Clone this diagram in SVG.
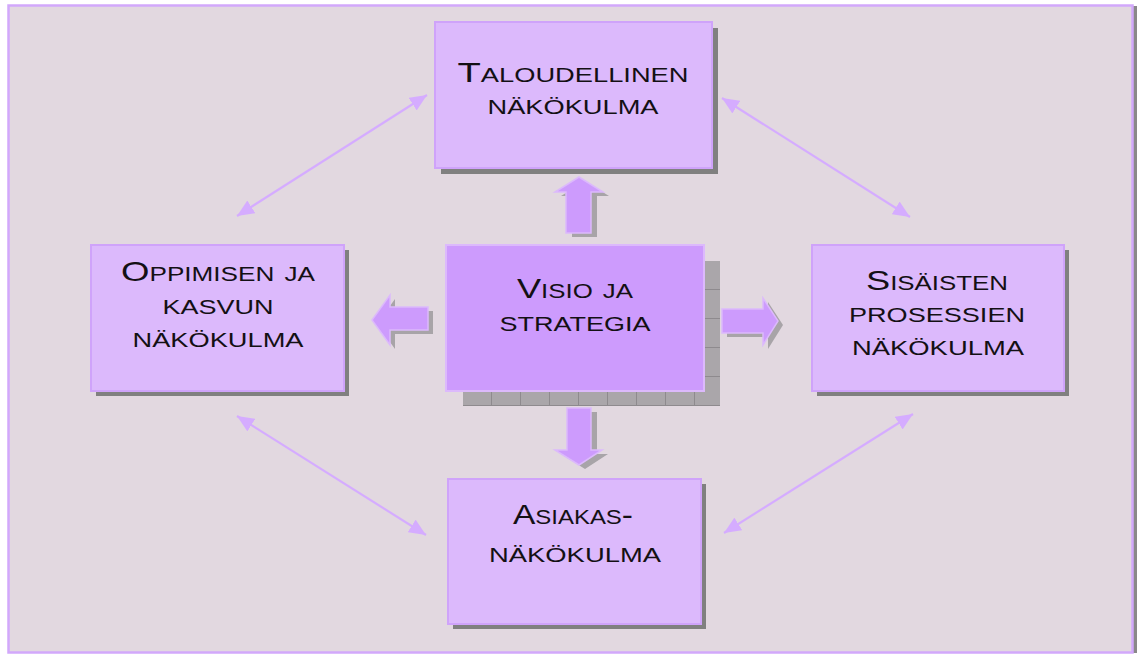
<svg xmlns="http://www.w3.org/2000/svg" width="1137" height="655" viewBox="0 0 1137 655">
  <defs>
    <style>
      .frame { fill: #e2d8e0; stroke: #d2a8fb; stroke-width: 2.5; }
      .box { fill: #dcb9fc; stroke: #cfa3fa; stroke-width: 2; }
      .core { fill: #cd9bfd; stroke: #dcb9fc; stroke-width: 2; }
      .shadow { fill: #808080; }
      .block { fill: #cd9bfd; stroke: #dcb9fc; stroke-width: 1.5; }
      .blockshadow { fill: #a8a4a8; }
      .link { stroke: #d5acff; stroke-width: 2.2; fill: none; marker-start: url(#head); marker-end: url(#head); }
      .label { font-family: "Liberation Sans", "DejaVu Sans", sans-serif; font-size: 28px; font-variant: small-caps; fill: #141014; text-anchor: middle; }
    </style>
    <marker id="head" viewBox="0 0 17 15" refX="17" refY="7.5" markerWidth="17" markerHeight="15" markerUnits="userSpaceOnUse" orient="auto-start-reverse">
      <path d="M0,0 L17,7.5 L0,15 Z" fill="#d5acff"/>
    </marker>
    <pattern id="tiles" x="463" y="261" width="29" height="29" patternUnits="userSpaceOnUse">
      <rect width="29" height="29" fill="#aaa6aa"/>
      <path d="M0,28.5 H29 M28.5,0 V29" stroke="#8e8a8e" stroke-width="1"/>
    </pattern>
  </defs>

  <!-- outer panel -->
  <rect x="1133" y="6" width="4" height="647" fill="#8a888a"/>
  <rect class="frame" x="8.5" y="5.5" width="1124" height="647"/>

  <!-- connectors: block arrows from the centre and double-headed links between the perspectives -->
  <g id="connectors">
    <polygon class="blockshadow" points="585,181 609,196 597,196 597,237 572,237 572,196 561,196"/>
    <polygon class="block" points="579,177 603,192 591,192 591,233 566,233 566,192 555,192"/>

    <polygon class="blockshadow" points="572,412 597,412 597,454 608,454 585,469 561,454 572,454"/>
    <polygon class="block" points="567,408 591,408 591,450 602,450 579,465 555,450 567,450"/>

    <polygon class="blockshadow" points="377,324 395,299 395,311 433,311 433,334 395,334 395,349"/>
    <polygon class="block" points="372,320 390,295 390,307 428,307 428,330 390,330 390,345"/>

    <polygon class="blockshadow" points="727,313 768,313 768,302 783,325 768,349 768,337 727,337"/>
    <polygon class="block" points="722,309 763,309 763,298 778,321 763,345 763,333 722,333"/>

    <line class="link" x1="237" y1="216" x2="427" y2="95"/>
    <line class="link" x1="722" y1="98" x2="910" y2="217"/>
    <line class="link" x1="237" y1="416" x2="426" y2="535"/>
    <line class="link" x1="913" y1="414" x2="724" y2="533"/>
  </g>

  <g id="financial">
    <rect class="shadow" x="441" y="28" width="277" height="146"/>
    <rect class="box" x="435" y="22" width="277" height="146"/>
    <text class="label" x="573" y="82" textLength="231" lengthAdjust="spacingAndGlyphs">Taloudellinen</text>
    <text class="label" x="573" y="114" textLength="171" lengthAdjust="spacingAndGlyphs">näkökulma</text>
  </g>

  <g id="vision">
    <rect x="463" y="261" width="257" height="145" fill="url(#tiles)"/>
    <rect class="core" x="446" y="245" width="258" height="146"/>
    <text class="label" x="575" y="298" textLength="116" lengthAdjust="spacingAndGlyphs">Visio ja</text>
    <text class="label" x="575" y="331" textLength="151" lengthAdjust="spacingAndGlyphs">strategia</text>
  </g>

  <g id="learning">
    <rect class="shadow" x="96" y="250" width="253" height="146"/>
    <rect class="box" x="91" y="245" width="253" height="146"/>
    <text class="label" x="218" y="281" textLength="194" lengthAdjust="spacingAndGlyphs">Oppimisen ja</text>
    <text class="label" x="218" y="314" textLength="111" lengthAdjust="spacingAndGlyphs">kasvun</text>
    <text class="label" x="218" y="347" textLength="171" lengthAdjust="spacingAndGlyphs">näkökulma</text>
  </g>

  <g id="processes">
    <rect class="shadow" x="817" y="250" width="252" height="146"/>
    <rect class="box" x="812" y="245" width="252" height="146"/>
    <text class="label" x="937" y="290" textLength="142" lengthAdjust="spacingAndGlyphs">Sisäisten</text>
    <text class="label" x="937" y="322" textLength="176" lengthAdjust="spacingAndGlyphs">prosessien</text>
    <text class="label" x="938" y="355" textLength="172" lengthAdjust="spacingAndGlyphs">näkökulma</text>
  </g>

  <g id="customer">
    <rect class="shadow" x="453" y="484" width="253" height="145"/>
    <rect class="box" x="448" y="479" width="253" height="145"/>
    <text class="label" x="573" y="524" textLength="120" lengthAdjust="spacingAndGlyphs">Asiakas-</text>
    <text class="label" x="575" y="562" textLength="172" lengthAdjust="spacingAndGlyphs">näkökulma</text>
  </g>
</svg>
